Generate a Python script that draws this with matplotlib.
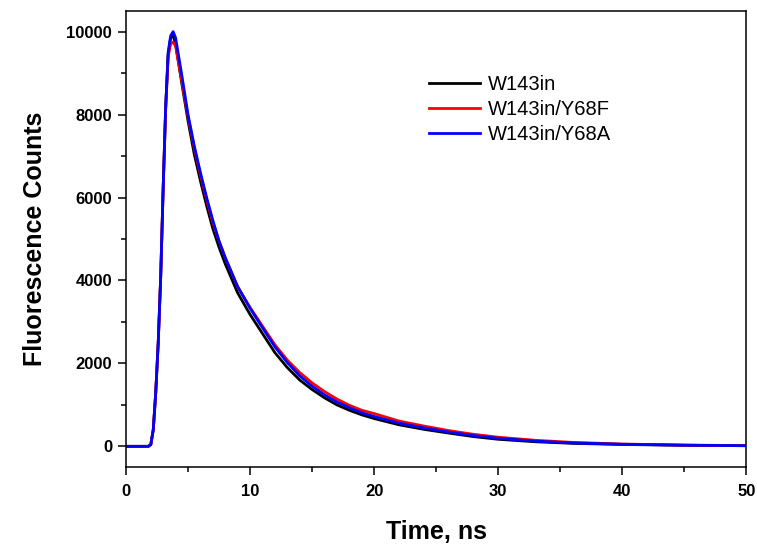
import matplotlib
matplotlib.use('Agg')

import matplotlib.pyplot as plt
from matplotlib.ticker import MultipleLocator

# time axis (ns) and decay traces
time_ns = [0, 1.8, 2.0, 2.2, 2.4, 2.6, 2.8, 3.0, 3.2, 3.4, 3.6, 3.8, 4.0, 4.5,
           5.0, 5.5, 6.0, 6.5, 7.0, 7.5, 8.0, 9.0, 10, 11, 12, 13, 14, 15, 16,
           17, 18, 19, 20, 22, 24, 26, 28, 30, 33, 36, 40, 45, 50]

w143in = [0, 0, 40, 400, 1300, 2500, 4100, 6250, 8150, 9450, 9850, 9900, 9700, 8750,
          7850, 7050, 6400, 5800, 5250, 4800, 4400, 3700, 3180, 2720, 2260, 1900, 1600, 1370, 1170,
          1000, 870, 760, 670, 520, 410, 320, 235, 170, 110, 72, 45, 25, 15]

w143in_y68f = [0, 0, 40, 400, 1300, 2500, 4100, 6250, 8150, 9400, 9700, 9750, 9650, 8800,
               7950, 7200, 6550, 5950, 5400, 4950, 4550, 3850, 3350, 2900, 2450, 2080, 1780, 1530, 1320,
               1140, 990, 870, 790, 610, 490, 380, 290, 220, 145, 95, 55, 30, 18]

w143in_y68a = [0, 0, 40, 400, 1300, 2500, 4100, 6250, 8200, 9500, 9900, 10000, 9850, 8950,
               8000, 7250, 6600, 6000, 5450, 4950, 4550, 3850, 3330, 2860, 2400, 2020, 1700, 1450, 1240,
               1070, 930, 810, 720, 560, 445, 345, 260, 195, 125, 82, 50, 27, 15]

labels = ['W143in', 'W143in/Y68F', 'W143in/Y68A']
colors = ['black', 'red', 'blue']

plt.rcParams['font.family'] = ['Liberation Sans', 'DejaVu Sans']

fig = plt.figure(figsize=(7.57, 5.45), dpi=100)
ax = fig.add_axes([0.1664, 0.143, 0.8196, 0.837])

for y, lab, c in zip([w143in, w143in_y68f, w143in_y68a], labels, colors):
    ax.plot(time_ns, y, color=c, lw=2.0, label=lab)

ax.set_xlim(0, 50)
ax.set_ylim(-500, 10500)
ax.xaxis.set_major_locator(MultipleLocator(10))
ax.xaxis.set_minor_locator(MultipleLocator(5))
ax.yaxis.set_major_locator(MultipleLocator(2000))
ax.yaxis.set_minor_locator(MultipleLocator(1000))

ax.tick_params(which='both', direction='out', width=1.1, top=False, right=False)
ax.tick_params(which='major', length=6, labelsize=12)
ax.tick_params(axis='x', which='major', pad=6)
ax.tick_params(axis='y', which='major', pad=4)
ax.tick_params(which='minor', length=3.5)
for lbl in ax.get_xticklabels() + ax.get_yticklabels():
    lbl.set_fontweight('bold')
for s in ax.spines.values():
    s.set_linewidth(1.1)

ax.set_xlabel('Time, ns', fontsize=18, fontweight='bold', labelpad=15)
ax.set_ylabel('Fluorescence Counts', fontsize=18, fontweight='bold', labelpad=14)

ax.legend(loc='upper left', bbox_to_anchor=(0.46, 0.90), frameon=False, fontsize=14.5,
          handlelength=2.5, handletextpad=0.4, labelspacing=0.3)

fig.savefig('out.png', dpi=100)
